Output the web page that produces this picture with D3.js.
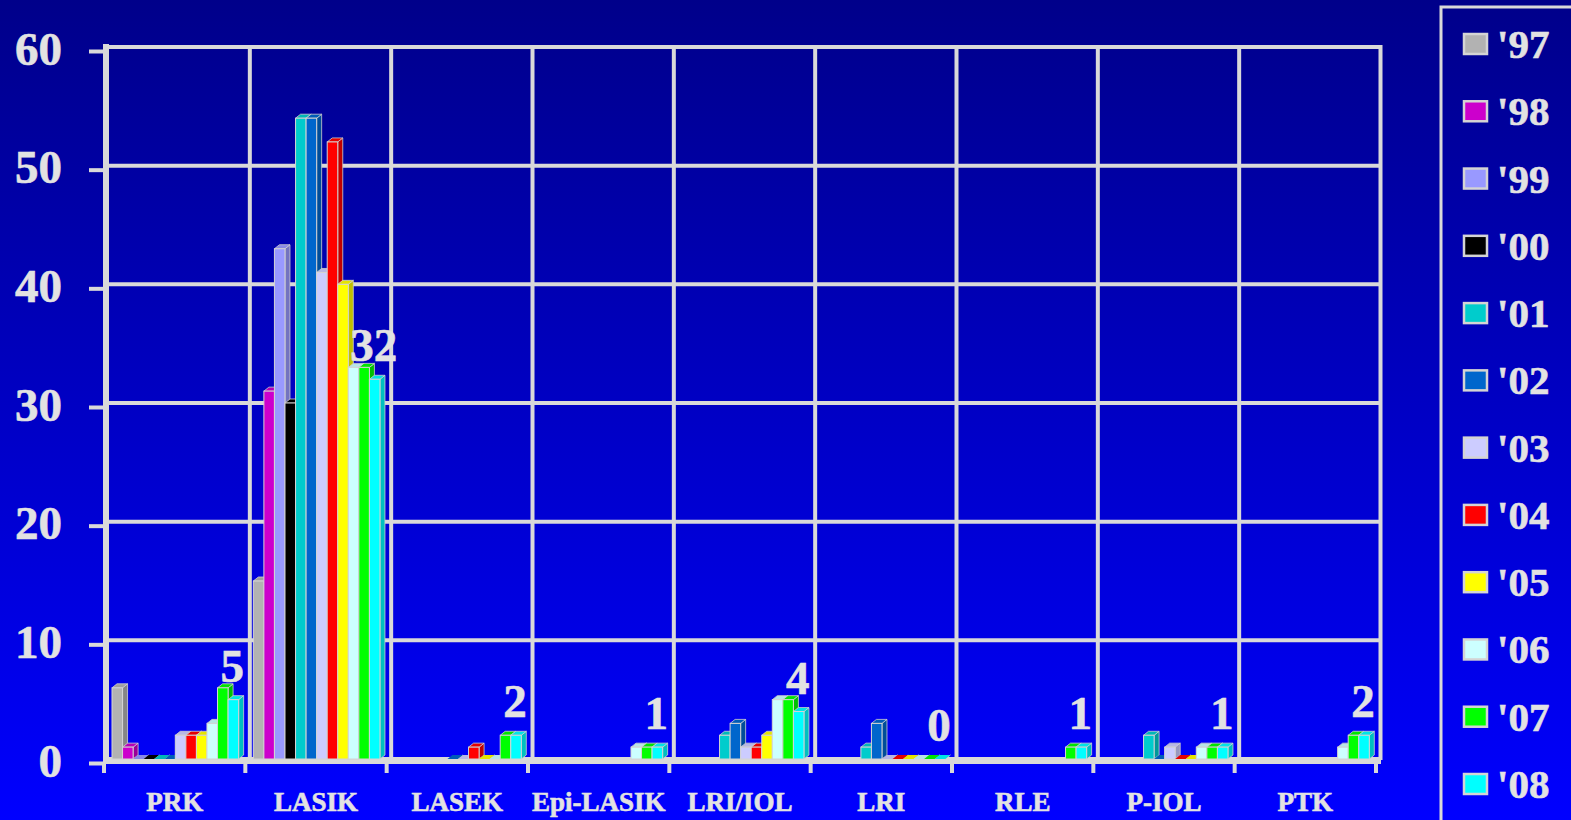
<!DOCTYPE html>
<html>
<head>
<meta charset="utf-8">
<script src="https://cdn.jsdelivr.net/npm/d3@7"></script>
<style>
  html, body { margin: 0; padding: 0; background: #0000c0; }
  svg { display: block; }
  text { font-family: "Liberation Serif", "Times New Roman", serif; font-weight: bold; fill: #e2e2e2; stroke: #e2e2e2; stroke-width: 0.6; }
</style>
</head>
<body>
<svg id="chart" width="1571" height="820"></svg>
<script>
// Procedures by category, one array per year (null = no entry that year)
const categories = ["PRK", "LASIK", "LASEK", "Epi-LASIK", "LRI/IOL", "LRI", "RLE", "P-IOL", "PTK"];
const years = ["'97", "'98", "'99", "'00", "'01", "'02", "'03", "'04", "'05", "'06", "'07", "'08"];
const colors = ["#b2b2b2", "#cc00cc", "#9999ff", "#000000", "#00cccc", "#0066cc",
                "#ccccff", "#ff0000", "#ffff00", "#ccffff", "#00ff00", "#00ffff"];

const y97 = [6, 15, null, null, null, null, null, null, null];
const y98 = [1, 31, null, null, null, null, null, null, null];
const y99 = [0, 43, null, null, null, null, null, null, null];
const y00 = [0, 30, null, null, null, null, null, null, null];
const y01 = [0, 54, null, null, 2, 1, null, 2, null];
const y02 = [0, 54, 0, null, 3, 3, null, 0, null];
const y03 = [2, 41, 0, null, 1, 0, null, 1, null];
const y04 = [2, 52, 1, null, 1, 0, null, 0, null];
const y05 = [2, 40, 0, null, 2, 0, null, 0, null];
const y06 = [3, 33, 0, 1, 5, 0, null, 1, 1];
const y07 = [6, 33, 2, 1, 5, 0, 1, 1, 2];
const y08 = [5, 32, 2, 1, 4, 0, 1, 1, 2];

const yTicks = [0, 10, 20, 30, 40, 50, 60];

const seriesValues = [y97, y98, y99, y00, y01, y02, y03, y04, y05, y06, y07, y08];
// Latest year is annotated above each group
const labelSeries = years.length - 1;

(function draw() {
  const svg = d3.select("#chart");
  const W = 1571, H = 820;
  const plotL = 107, plotR = 1379, plotT = 47, plotB = 759;
  const DX = 5, DY = 4;            // 3D depth offset of bars
  const gridColor = "#d9d9d9";

  // Background gradient
  const defs = svg.append("defs");
  const grad = defs.append("linearGradient").attr("id", "bg")
    .attr("x1", 0).attr("y1", 0).attr("x2", 0).attr("y2", 1);
  grad.append("stop").attr("offset", "0%").attr("stop-color", "#00008a");
  grad.append("stop").attr("offset", "100%").attr("stop-color", "#0000ff");
  svg.append("rect").attr("width", W).attr("height", H).attr("fill", "url(#bg)");

  const x0 = d3.scaleBand().domain(categories).range([plotL, plotR]).padding(0);
  const y = d3.scaleLinear().domain([0, 60]).range([plotB, plotT]);
  const x1 = d3.scaleBand().domain(years)
    .range([5, 5 + x0.bandwidth() * 0.896]).padding(0);

  // Horizontal gridlines (back wall)
  svg.append("g").selectAll("line").data(yTicks).join("line")
    .attr("x1", plotL + 2).attr("x2", plotR + 2)
    .attr("y1", d => y(d)).attr("y2", d => y(d))
    .attr("stroke", gridColor).attr("stroke-width", 4);

  // Vertical category separators
  const bounds = categories.map(c => x0(c)).concat([plotR]);
  svg.append("g").selectAll("line").data(bounds.slice(1)).join("line")
    .attr("x1", d => d + 1.5).attr("x2", d => d + 1.5)
    .attr("y1", plotT - 2).attr("y2", plotB + 1)
    .attr("stroke", gridColor).attr("stroke-width", 4);

  // 3D bars
  const barsG = svg.append("g");
  categories.forEach((cat, ci) => {
    years.forEach((yr, si) => {
      const v = seriesValues[si][ci];
      if (v === null) return;
      const bx = x0(cat) + x1(yr);
      const bw = x1.bandwidth();
      const by = y(v);
      const c = d3.color(colors[si]);
      const g = barsG.append("g");
      // side face
      g.append("path")
        .attr("d", `M${bx + bw},${plotB} L${bx + bw + DX},${plotB - DY} L${bx + bw + DX},${by - DY} L${bx + bw},${by} Z`)
        .attr("fill", c.darker(0.8)).attr("stroke", "#cfcfcf").attr("stroke-width", 0.8);
      // top face
      g.append("path")
        .attr("d", `M${bx},${by} L${bx + DX},${by - DY} L${bx + bw + DX},${by - DY} L${bx + bw},${by} Z`)
        .attr("fill", c.darker(0.3)).attr("stroke", v > 0 ? "#cfcfcf" : "none").attr("stroke-width", 0.8);
      // front face
      if (v > 0) {
        g.append("rect")
          .attr("x", bx).attr("y", by)
          .attr("width", bw).attr("height", plotB - by)
          .attr("fill", colors[si]).attr("stroke", "#d4d4d4").attr("stroke-width", 1);
      }
    });
  });

  // Floor line and left axis (front plane)
  svg.append("line")
    .attr("x1", plotL - 4).attr("x2", plotR + 2)
    .attr("y1", plotB + 3).attr("y2", plotB + 3)
    .attr("stroke", gridColor).attr("stroke-width", 4);
  svg.append("line")
    .attr("x1", plotL - 1).attr("x2", plotL - 1)
    .attr("y1", plotT - 3).attr("y2", plotB + 5)
    .attr("stroke", gridColor).attr("stroke-width", 6);

  // Y axis ticks and labels
  const yAxis = d3.axisLeft(y).tickValues(yTicks).tickSize(14).tickPadding(30);
  const yAxisG = svg.append("g").attr("transform", `translate(${plotL - 4},4)`).call(yAxis);
  yAxisG.select(".domain").remove();
  yAxisG.selectAll(".tick line").attr("stroke", gridColor).attr("stroke-width", 4);
  yAxisG.selectAll(".tick text")
    .attr("fill", "#e2e2e2").attr("font-size", 47)
    .attr("font-family", "'Liberation Serif', 'Times New Roman', serif")
    .attr("font-weight", "bold")
    .attr("x", -41).attr("dy", "0.28em");

  // X axis category labels and boundary ticks
  const xAxisG = svg.append("g").attr("transform", `translate(-3,${plotB + 3})`)
    .call(d3.axisBottom(x0).tickSize(0).tickPadding(0));
  xAxisG.select(".domain").remove();
  xAxisG.selectAll(".tick text")
    .attr("fill", "#e2e2e2").attr("font-size", 27)
    .attr("font-family", "'Liberation Serif', 'Times New Roman', serif")
    .attr("font-weight", "bold")
    .attr("y", 49).attr("dy", 0);
  svg.append("g").selectAll("line").data(bounds).join("line")
    .attr("x1", d => d - 3).attr("x2", d => d - 3)
    .attr("y1", plotB + 3).attr("y2", plotB + 14)
    .attr("stroke", gridColor).attr("stroke-width", 4);

  // Value labels for the latest year
  const labelVals = seriesValues[labelSeries];
  svg.append("g").selectAll("text").data(categories).join("text")
    .attr("x", (c) => x0(c) + x1(years[labelSeries]) + x1.bandwidth() / 2 - 1)
    .attr("y", (c, i) => y(labelVals[i]) - 18)
    .attr("text-anchor", "middle")
    .attr("font-size", 47)
    .text((c, i) => labelVals[i]);

  // Legend
  const lg = svg.append("g");
  lg.append("rect").attr("x", 1441).attr("y", 7).attr("width", 200).attr("height", 900)
    .attr("fill", "none").attr("stroke", gridColor).attr("stroke-width", 3);
  const legY = d3.scalePoint().domain(years).range([44, 784]);
  const items = lg.selectAll("g.item").data(years).join("g").attr("class", "item")
    .attr("transform", d => `translate(0,${legY(d)})`);
  items.append("rect")
    .attr("x", 1464).attr("y", -10).attr("width", 23).attr("height", 20)
    .attr("fill", (d, i) => colors[i]).attr("stroke", "#d4d4d4").attr("stroke-width", 2.5);
  items.append("text")
    .attr("x", 1497).attr("y", 14)
    .attr("font-size", 41)
    .text(d => d);
})();
</script>
</body>
</html>
